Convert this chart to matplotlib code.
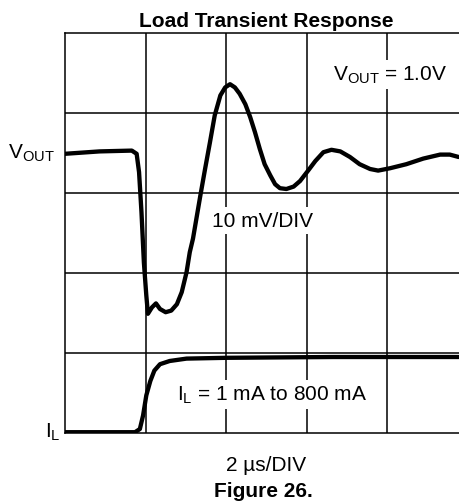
import matplotlib
matplotlib.use('Agg')
import matplotlib.pyplot as plt

plt.rcParams['font.family'] = ['Liberation Sans', 'DejaVu Sans']
plt.rcParams['mathtext.fontset'] = 'custom'
plt.rcParams['mathtext.rm'] = 'Liberation Sans'
plt.rcParams['mathtext.it'] = 'Liberation Sans'

# traces, in divisions (x: 2 us/DIV, y: from bottom line)
vout_t = [0.0, 0.43, 0.83, 0.89, 0.92, 0.95, 0.98, 1.01, 1.03, 1.08, 1.13, 1.18,
          1.25, 1.32, 1.39, 1.45, 1.51, 1.55, 1.59, 1.68, 1.74, 1.80, 1.86, 1.93,
          1.99, 2.05, 2.11, 2.17, 2.24, 2.30, 2.36, 2.42, 2.48, 2.55, 2.61, 2.67,
          2.75, 2.84, 2.92, 3.02, 3.11, 3.21, 3.31, 3.42, 3.54, 3.66, 3.79, 3.89,
          4.04, 4.24, 4.45, 4.66, 4.78, 4.89]
vout_y = [3.49, 3.52, 3.53, 3.49, 3.26, 2.76, 2.13, 1.72, 1.49, 1.57, 1.62, 1.55,
          1.51, 1.53, 1.61, 1.76, 2.01, 2.26, 2.43, 2.96, 3.30, 3.63, 3.97, 4.22,
          4.32, 4.36, 4.32, 4.24, 4.11, 3.95, 3.76, 3.55, 3.36, 3.22, 3.11, 3.06,
          3.05, 3.08, 3.15, 3.28, 3.40, 3.51, 3.54, 3.52, 3.45, 3.36, 3.30, 3.28,
          3.31, 3.36, 3.43, 3.48, 3.48, 3.45]

il_t = [0.0, 0.87, 0.93, 0.97, 1.01, 1.06, 1.11, 1.18, 1.30, 1.51, 2.01, 3.33, 4.89]
il_y = [0.01, 0.01, 0.05, 0.22, 0.47, 0.65, 0.78, 0.86, 0.90, 0.93, 0.94, 0.95, 0.95]

W, H = 459, 502
fig = plt.figure(figsize=(W / 100, H / 100), dpi=100)
ax = fig.add_axes([65 / W, 1 - 434 / H, 402.5 / W, 400 / H])
ax.set_xlim(0, 5)
ax.set_ylim(0, 5)
ax.set_xticks([])
ax.set_yticks([])
for s in ax.spines.values():
    s.set_linewidth(1.1)
for k in range(1, 5):
    ax.axvline(k, color='black', lw=1.1, zorder=1)
    ax.axhline(k, color='black', lw=1.1, zorder=1)

ax.plot(vout_t, vout_y, color='black', lw=3.1, solid_joinstyle='round',
        solid_capstyle='round', zorder=4)
ax.plot(il_t, il_y, color='black', lw=3.1, solid_joinstyle='round',
        solid_capstyle='round', zorder=4)


def px(x, y):
    return x / W, 1 - y / H


box = dict(facecolor='white', edgecolor='none', pad=3)
ax.text(*px(333, 81), r'V$_{\rm OUT}$ = 1.0V', transform=fig.transFigure,
        fontsize=15, ha='left', va='baseline', bbox=box, zorder=3)
ax.text(*px(263, 227), '10 mV/DIV', transform=fig.transFigure,
        fontsize=15, ha='center', va='baseline', bbox=box, zorder=3)
ax.text(*px(177, 401), r'I$_{\rm L}$ = 1 mA to 800 mA', transform=fig.transFigure,
        fontsize=15, ha='left', va='baseline', bbox=box, zorder=3)

fig.text(*px(266, 27), 'Load Transient Response', fontsize=15,
         fontweight='bold', ha='center', va='baseline')
fig.text(*px(55, 159), r'V$_{\rm OUT}$', fontsize=15, ha='right', va='baseline')
fig.text(*px(45, 438), r'I$_{\rm L}$', fontsize=15, ha='left', va='baseline')
fig.text(*px(266, 471), '2 µs/DIV', fontsize=15, ha='center', va='baseline')
fig.text(*px(263, 497), 'Figure 26.', fontsize=15, fontweight='bold',
         ha='center', va='baseline')

fig.savefig('out.png', dpi=100)
